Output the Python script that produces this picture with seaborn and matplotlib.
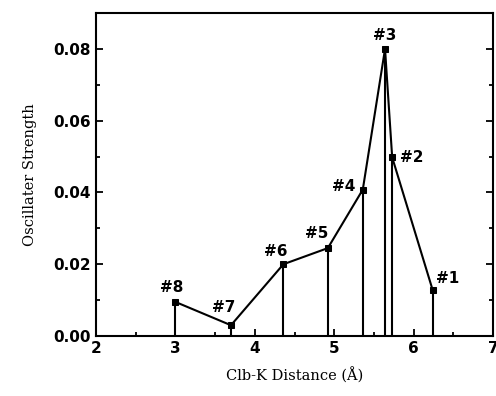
import numpy as np
import pandas as pd
import matplotlib
matplotlib.use('Agg')
import matplotlib.pyplot as plt
import seaborn as sns
from matplotlib.ticker import MultipleLocator

# values
labels = ['#8', '#7', '#6', '#5', '#4', '#3', '#2', '#1']
distance = [3.00, 3.70, 4.36, 4.92, 5.36, 5.64, 5.73, 6.24]
strength = [0.0095, 0.0030, 0.0200, 0.0245, 0.0408, 0.0800, 0.0498, 0.0128]
# label offsets in pixels (dx, dy) relative to each point
offsets = [(-4, 14), (-7, 18), (-8, 13), (-11, 15), (-19, 3), (0, 13), (20, 0), (15, 12)]

df = pd.DataFrame({'Distance': distance, 'Strength': strength, 'Label': labels})

sns.set_style('ticks', {'text.color': 'black', 'axes.labelcolor': 'black',
                        'xtick.color': 'black', 'ytick.color': 'black',
                        'axes.edgecolor': 'black'})
fig = plt.figure(figsize=(4.96, 3.96), dpi=100)
ax = fig.add_axes([0.1935, 0.1515, 0.8005, 0.8155])

sns.lineplot(data=df, x='Distance', y='Strength', ax=ax, color='black',
             linewidth=1.5, marker='s', markersize=4, markeredgecolor='black',
             sort=True, estimator=None)
ax.vlines(df['Distance'], 0, df['Strength'], color='black', linewidth=1.5)

for x, y, lab, (dx, dy) in zip(distance, strength, labels, offsets):
    ax.annotate(lab, (x, y), xytext=(dx * 0.72, dy * 0.72), textcoords='offset points',
                ha='center', va='center', fontsize=11, fontweight='heavy',
                family='DejaVu Sans', color='black')

ax.set_xlim(2, 7)
ax.set_ylim(0, 0.09)
ax.xaxis.set_major_locator(MultipleLocator(1))
ax.xaxis.set_minor_locator(MultipleLocator(0.5))
ax.yaxis.set_major_locator(MultipleLocator(0.02))
ax.yaxis.set_minor_locator(MultipleLocator(0.01))
ax.yaxis.set_major_formatter(matplotlib.ticker.FormatStrFormatter('%.2f'))
ax.tick_params(which='both', direction='in', right=True, top=False, width=1.3,
               colors='black')
ax.tick_params(which='major', length=5, labelsize=11)
ax.tick_params(which='minor', length=3)
for t in ax.get_xticklabels() + ax.get_yticklabels():
    t.set_fontweight('bold')
for s in ax.spines.values():
    s.set_linewidth(1.5)
    s.set_color('black')

ax.set_xlabel('Clb-K Distance (Å)', family='DejaVu Serif', fontsize=10.5, labelpad=8,
              color='black')
ax.set_ylabel('Oscillater Strength', family='DejaVu Serif', fontsize=10.5, labelpad=12,
              color='black')

fig.savefig('out.png', dpi=100)
